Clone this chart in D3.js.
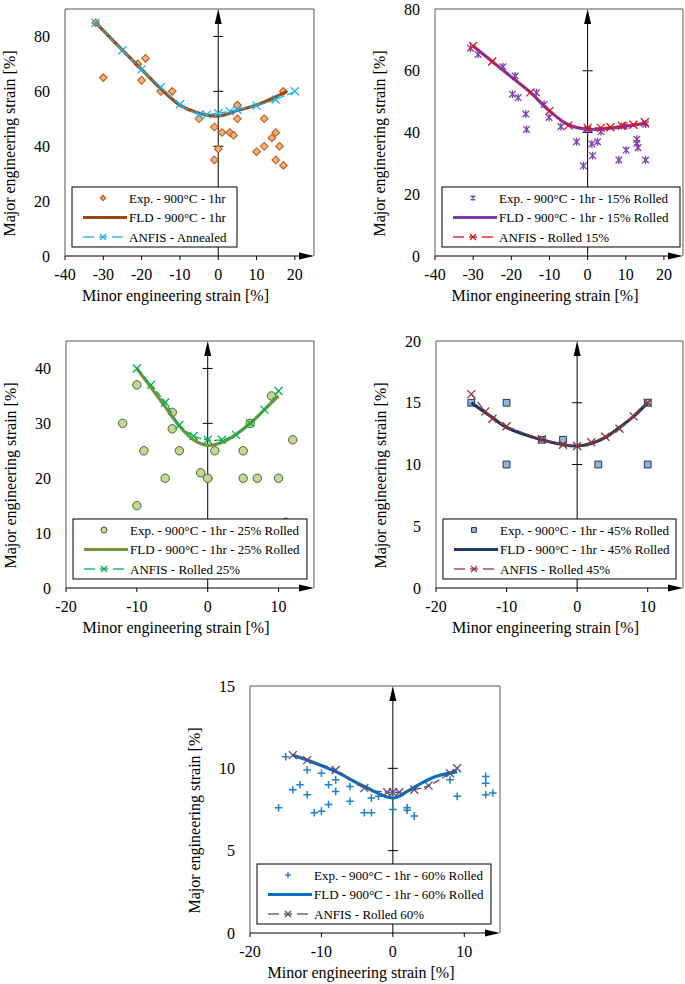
<!DOCTYPE html>
<html>
<head>
<meta charset="utf-8">
<script src="https://cdn.jsdelivr.net/npm/d3@7"></script>
<style>
  body { margin: 0; background: #fff; }
  svg text { font-family: "Liberation Serif", "Times New Roman", serif; fill: #000; }
  .tick-label { font-size: 16px; }
  .axis-title { font-size: 16px; }
  .legend-text { font-size: 13px; }
</style>
</head>
<body>
<svg id="chart" width="685" height="984"></svg>
<script>
// ---- data: [minor strain, major strain] ----
var exp1 = [[-32,85],[-30,65],[-21,70],[-19,72],[-20,64],[-15,60],[-12,60],[-5,50],[-1,47],[0,39],
  [-1,35],[1,45],[3,45],[4,44],[5,55],[5,50],[12,50],[10,38],[12,40],[14,43],[15,45],[16,40],[15,35],[17,33],[17,60]];
var fld1 = [[-32,85],[-25,75],[-20,68],[-15,61],[-10,55],[-5,52],[0,51],[5,53],[10,55],[15,58],[18,60]];
var anfis1 = [[-32,85],[-25,75],[-20,68],[-15,61.5],[-10,55.3],[-5,51.5],[-3,51.5],[0,52],[3,52.7],[5,53.3],[10,54.8],[15,57],[20,60]];

var exp2 = [[-30.7,67.3],[-28.7,65.3],[-22.2,61.3],[-19,58.3],[-19.7,52.4],[-18.2,51.3],[-16.2,46],[-16,41],
  [-13.4,52.9],[-11.4,49.1],[-10.1,44.9],[-7,41.9],[-2.9,37],[-1.1,29.2],[1.1,36.3],[1.3,32.5],[2.6,37],[3.5,40.3],
  [8.2,31.1],[10.1,34.3],[12.9,37.8],[12.9,36.5],[13.2,35.1],[15.2,31.1],[15.2,42.7],[9.6,42.1],[0,41]];
var fld2 = [[-30,68],[-25,63],[-20,58],[-15,53],[-10,47],[-5,42.5],[0,41],[5,41.3],[10,42],[15,43]];
var anfis2 = [[-30,68],[-25,63],[-15,53],[-10,47],[-5,42.3],[0,41.5],[3.5,41.5],[6,41.7],[9,42.2],[12,42.5],[15,43.3]];

var exp3 = [[-10,37],[-12,30],[-9,25],[-5,32],[-5,29],[-4,25],[-6,20],[-10,15],[-1,21],[0,20],
  [1,25],[5,25],[5,20],[7,20],[10,20],[6,30],[9,35],[12,27],[11,12]];
var fld3 = [[-10,40],[-8,36.5],[-6,33],[-4,29.5],[-2,27],[0,26],[2,26.5],[4,28],[6,30],[8,32.5],[10,35]];
var anfis3 = [[-10,40],[-8,37],[-6,33.8],[-4,29.7],[-2,27.7],[0,27],[2,27],[4,27.9],[6,30],[8,32.5],[10,35.9]];

var exp4 = [[-15,15],[-10,15],[-10,10],[-5,12],[-2,12],[3,10],[10,15],[10,10]];
var fld4 = [[-15,15],[-12,13.8],[-10,13],[-5,12],[-2,11.6],[0,11.5],[2,11.7],[4,12.2],[6,13],[8,13.9],[10,15]];
var anfis4 = [[-15,15.7],[-13,14.3],[-12,13.7],[-10,13.1],[-5,12.05],[-2,11.6],[0,11.5],[2,11.8],[4,12.25],[6,12.9],[8,13.9],[10,15]];

var exp5 = [[-16,7.6],[-15,10.7],[-14,8.7],[-13,9],[-12,9.9],[-12,8.4],[-11,7.3],[-10,9.7],[-10,7.4],[-9,9],[-9,7.8],
  [-8,9.3],[-8,8.6],[-6,8.9],[-6,8.0],[-4,7.3],[-3,7.3],[-3,8.2],[-2,8.3],[0,7.5],[2,7.6],[2,7.45],[3,7.1],
  [8,9.3],[9,8.3],[13,9.5],[13,9.1],[13,8.4],[14,8.5]];
var fld5 = [[-14,10.8],[-12,10.5],[-8,9.8],[-4,8.9],[0,8.2],[2,8.6],[4,9.1],[6,9.5],[9,9.8]];
var anfis5 = [[-14,10.8],[-12,10.5],[-8,9.9],[-4,8.8],[-0.8,8.55],[0,8.55],[0.9,8.55],[3,8.7],[5,8.95],[8,9.7],[9,10]];

// ---- tick labels ----
var xTicksWide = [-40,-30,-20,-10,0,10,20];
var xTicksNarrow = [-20,-10,0,10];
var yTicks1 = [0,20,40,60,80];
var yTicks2 = [0,20,40,60,80];
var yTicks3 = [0,10,20,30,40];
var yTicks4 = [0,5,10,15,20];
var yTicks5 = [0,5,10,15];

// ---- legend labels ----
var legend1 = ["Exp. - 900°C - 1hr", "FLD - 900°C - 1hr", "ANFIS - Annealed"];
var legend2 = ["Exp. - 900°C - 1hr - 15% Rolled", "FLD - 900°C - 1hr - 15% Rolled", "ANFIS - Rolled 15%"];
var legend3 = ["Exp. - 900°C - 1hr - 25% Rolled", "FLD - 900°C - 1hr - 25% Rolled", "ANFIS - Rolled 25%"];
var legend4 = ["Exp. - 900°C - 1hr - 45% Rolled", "FLD - 900°C - 1hr - 45% Rolled", "ANFIS - Rolled 45%"];
var legend5 = ["Exp. - 900°C - 1hr - 60% Rolled", "FLD - 900°C - 1hr - 60% Rolled", "ANFIS - Rolled 60%"];

var svg = d3.select("#chart");

// marker shapes, centered on 0,0
var markerPath = {
  diamond: function(s){ return "M0,"+(-s)+"L"+s+",0L0,"+s+"L"+(-s)+",0Z"; },
  square: function(s){ return "M"+(-s)+","+(-s)+"H"+s+"V"+s+"H"+(-s)+"Z"; },
  plus: function(s){ return "M"+(-s)+",0H"+s+"M0,"+(-s)+"V"+s; },
  cross: function(s){ return "M"+(-s)+","+(-s)+"L"+s+","+s+"M"+(-s)+","+s+"L"+s+","+(-s); },
  star: function(s){ return "M"+(-s)+","+(-s)+"L"+s+","+s+"M"+(-s)+","+s+"L"+s+","+(-s)+"M0,"+(-s*1.2)+"V"+(s*1.2); }
};

var drawMarker = function(g, type, x, y, s, st){
  if(type == "circle"){
    g.append("circle").attr("cx", x).attr("cy", y).attr("r", s)
      .attr("fill", st.fill).attr("stroke", st.stroke).attr("stroke-width", st.sw);
  } else {
    g.append("path").attr("d", markerPath[type](s))
      .attr("transform", "translate("+x+","+y+")")
      .attr("fill", st.fill || "none").attr("stroke", st.stroke).attr("stroke-width", st.sw);
  }
};

var drawPanel = function(p){
  var g = svg.append("g").attr("class", "panel");
  var x = d3.scaleLinear().domain(p.xDom).range([p.box[0], p.box[2]]);
  var y = d3.scaleLinear().domain(p.yDom).range([p.box[3], p.box[1]]);
  var left = p.box[0], top = p.box[1], right = p.box[2], bottom = p.box[3];

  // plot area frame
  g.append("path")
    .attr("d", "M"+left+","+bottom+"V"+top+"H"+right+"V"+bottom)
    .attr("fill", "none").attr("stroke", "#595959").attr("stroke-width", 1);

  // x axis (at y = 0) with arrow
  var y0 = y(0), x0 = x(0);
  g.append("line").attr("x1", left).attr("x2", right - 4).attr("y1", y0).attr("y2", y0)
    .attr("stroke", "#000").attr("stroke-width", 1);
  g.append("path").attr("d", "M"+right+","+y0+"L"+(right-15)+","+(y0-3.5)+"L"+(right-15)+","+(y0+3.5)+"Z")
    .attr("fill", "#000");
  g.selectAll(".xtick").data(p.xTicks).enter().append("line")
    .attr("x1", function(d){ return x(d); }).attr("x2", function(d){ return x(d); })
    .attr("y1", y0).attr("y2", y0 + 4).attr("stroke", "#000");
  g.selectAll(".xlab").data(p.xTicks).enter().append("text")
    .attr("class", "tick-label").attr("text-anchor", "middle")
    .attr("x", function(d){ return x(d); }).attr("y", y0 + 24)
    .text(function(d){ return d; });

  // y axis (at x = 0) with arrow, cross ticks, labels on the low side
  g.append("line").attr("x1", x0).attr("x2", x0).attr("y1", bottom).attr("y2", top + 4)
    .attr("stroke", "#000").attr("stroke-width", 1);
  g.append("path").attr("d", "M"+x0+","+top+"L"+(x0-3.5)+","+(top+15)+"L"+(x0+3.5)+","+(top+15)+"Z")
    .attr("fill", "#000");
  g.selectAll(".ytick").data(p.yTicks.filter(function(d){ return d > 0 && y(d) > top + 16; })).enter().append("line")
    .attr("x1", x0 - 5).attr("x2", x0 + 5)
    .attr("y1", function(d){ return y(d); }).attr("y2", function(d){ return y(d); })
    .attr("stroke", "#000");
  g.selectAll(".ylab").data(p.yTicks).enter().append("text")
    .attr("class", "tick-label").attr("text-anchor", "end")
    .attr("x", left - 15).attr("y", function(d){ return y(d) + 5.5; })
    .text(function(d){ return d; });

  // axis titles
  g.append("text").attr("class", "axis-title").attr("text-anchor", "middle")
    .attr("x", (left + right) / 2 - 14).attr("y", bottom + 45)
    .text("Minor engineering strain [%]");
  g.append("text").attr("class", "axis-title").attr("text-anchor", "middle")
    .attr("transform", "translate("+(left - 50)+","+((top + bottom) / 2 + 11)+") rotate(-90)")
    .text("Major engineering strain [%]");

  // experimental points
  var pts = g.append("g");
  p.exp.forEach(function(d){ drawMarker(pts, p.expMarker, x(d[0]), y(d[1]), p.expSize, p.expStyle); });

  // FLD curve
  var smooth = d3.line().x(function(d){ return x(d[0]); }).y(function(d){ return y(d[1]); })
    .curve(d3.curveCatmullRom.alpha(0.5));
  g.append("path").attr("d", smooth(p.fld)).attr("fill", "none")
    .attr("stroke", p.fldColor).attr("stroke-width", 3.2).attr("stroke-linejoin", "round");

  // ANFIS dashed line with crosses
  g.append("path").attr("d", smooth(p.anfis)).attr("fill", "none")
    .attr("stroke", p.anfisColor).attr("stroke-width", 1.3).attr("stroke-dasharray", "7,3");
  p.anfis.forEach(function(d){ drawMarker(g, "cross", x(d[0]), y(d[1]), 4, {stroke: p.anfisColor, sw: 1.3}); });

  // legend
  var lx = left + 7, ly = bottom - 69;
  var lg = g.append("g");
  lg.append("rect").attr("x", lx).attr("y", ly).attr("width", p.legendW).attr("height", 60)
    .attr("fill", "#fff").attr("stroke", "#000").attr("stroke-width", 1);
  var rows = [ly + 11, ly + 30.5, ly + 50];
  drawMarker(lg, p.expMarker, lx + 31, rows[0], p.expSize * 0.72, p.expStyle);
  lg.append("line").attr("x1", lx + 11).attr("x2", lx + 55).attr("y1", rows[1]).attr("y2", rows[1])
    .attr("stroke", p.fldColor).attr("stroke-width", 3.2);
  [[lx + 11, lx + 22], [lx + 27, lx + 35], [lx + 40, lx + 51]].forEach(function(seg){
    lg.append("line").attr("x1", seg[0]).attr("x2", seg[1]).attr("y1", rows[2]).attr("y2", rows[2])
      .attr("stroke", p.anfisColor).attr("stroke-width", 1.3);
  });
  drawMarker(lg, "cross", lx + 31, rows[2], 3, {stroke: p.anfisColor, sw: 1.3});
  lg.selectAll(".lt").data(p.legend).enter().append("text")
    .attr("class", "legend-text")
    .attr("x", lx + 57).attr("y", function(d, i){ return rows[i] + 4.5; })
    .text(function(d){ return d; });
};

drawPanel({ box: [65, 9, 314, 256], xDom: [-40, 25], yDom: [0, 90], xTicks: xTicksWide, yTicks: yTicks1,
  exp: exp1, fld: fld1, anfis: anfis1, legend: legend1, legendW: 165,
  expMarker: "diamond", expSize: 3.8, expStyle: {fill: "#F4B183", stroke: "#C55A11", sw: 1.1},
  fldColor: "#9E480E", anfisColor: "#1AB2EE" });

drawPanel({ box: [435, 9, 683, 256], xDom: [-40, 25], yDom: [0, 80], xTicks: xTicksWide, yTicks: yTicks2,
  exp: exp2, fld: fld2, anfis: anfis2, legend: legend2, legendW: 238,
  expMarker: "star", expSize: 3.3, expStyle: {stroke: "#7F3FB5", sw: 1.3},
  fldColor: "#7A3DB5", anfisColor: "#D4121A" });

drawPanel({ box: [66, 341, 314, 588], xDom: [-20, 15], yDom: [0, 45], xTicks: xTicksNarrow, yTicks: yTicks3,
  exp: exp3, fld: fld3, anfis: anfis3, legend: legend3, legendW: 234,
  expMarker: "circle", expSize: 4.2, expStyle: {fill: "#C4D79B", stroke: "#4F6228", sw: 1},
  fldColor: "#77933C", anfisColor: "#00B050" });

drawPanel({ box: [436, 341, 683, 588], xDom: [-20, 15], yDom: [0, 20], xTicks: xTicksNarrow, yTicks: yTicks4,
  exp: exp4, fld: fld4, anfis: anfis4, legend: legend4, legendW: 233,
  expMarker: "square", expSize: 3.4, expStyle: {fill: "#95B3D7", stroke: "#1F3864", sw: 1},
  fldColor: "#1F3864", anfisColor: "#943634" });

drawPanel({ box: [250, 686, 500, 933], xDom: [-20, 15], yDom: [0, 15], xTicks: xTicksNarrow, yTicks: yTicks5,
  exp: exp5, fld: fld5, anfis: anfis5, legend: legend5, legendW: 234,
  expMarker: "plus", expSize: 3.8, expStyle: {stroke: "#1F80D0", sw: 1.5},
  fldColor: "#0070C0", anfisColor: "#5F4B7B" });
</script>
</body>
</html>
